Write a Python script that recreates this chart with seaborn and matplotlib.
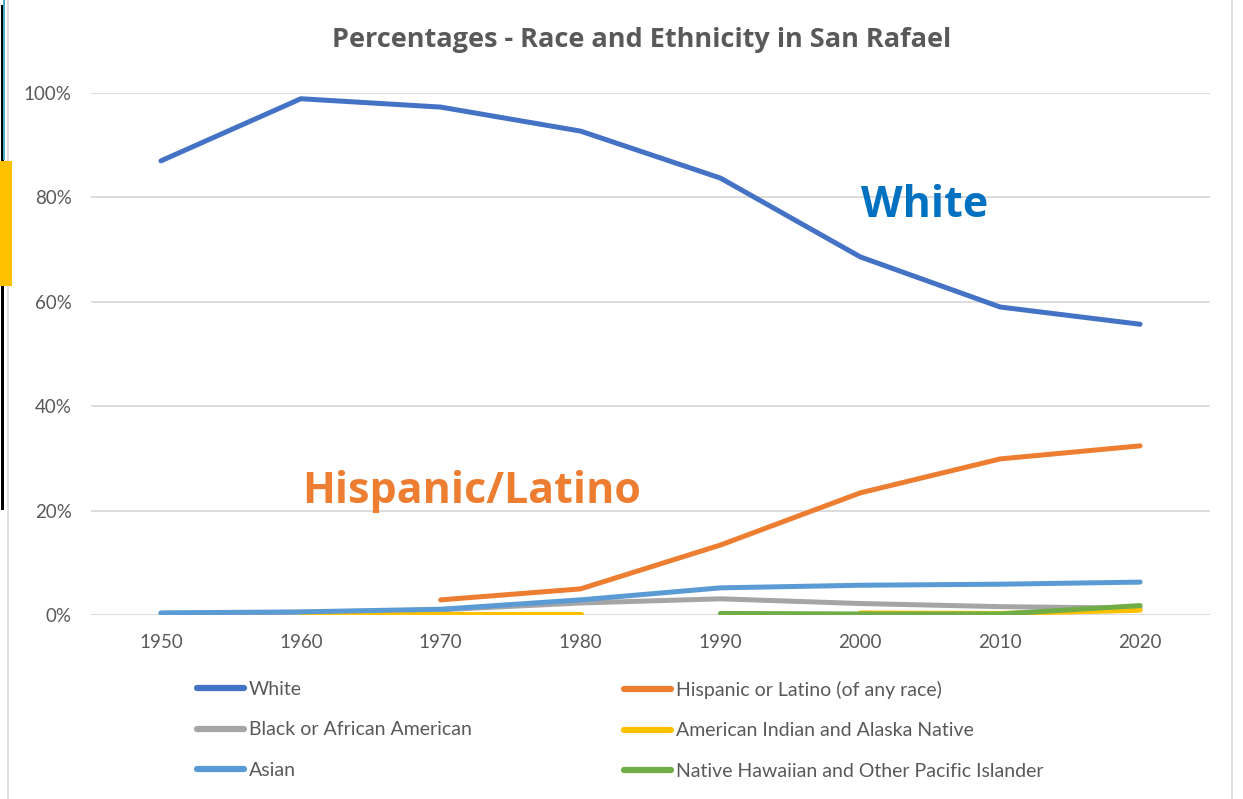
import matplotlib
matplotlib.use("Agg")
import matplotlib.pyplot as plt
from matplotlib.patches import Rectangle
from matplotlib.lines import Line2D
import seaborn as sns
import pandas as pd
import numpy as np

years = ["1950", "1960", "1970", "1980", "1990", "2000", "2010", "2020"]
white = [0.870, 0.989, 0.973, 0.927, 0.837, 0.686, 0.590, 0.557]
hispanic = [np.nan, np.nan, 0.029, 0.050, 0.134, 0.234, 0.299, 0.324]
black = [0.003, 0.005, 0.010, 0.023, 0.031, 0.022, 0.016, 0.013]
am_indian = [np.nan, 0.002, 0.002, 0.002, np.nan, 0.004, 0.003, 0.009]
asian = [0.004, 0.006, 0.011, 0.029, 0.052, 0.057, 0.059, 0.063]
pacific = [np.nan, np.nan, np.nan, np.nan, 0.003, 0.002, 0.002, 0.018]

series = {
    "White": white,
    "Hispanic or Latino (of any race)": hispanic,
    "Black or African American": black,
    "American Indian and Alaska Native": am_indian,
    "Asian": asian,
    "Native Hawaiian and Other Pacific Islander": pacific,
}
colors = {
    "White": "#4472C4",
    "Hispanic or Latino (of any race)": "#ED7D31",
    "Black or African American": "#A5A5A5",
    "American Indian and Alaska Native": "#FFC000",
    "Asian": "#5B9BD5",
    "Native Hawaiian and Other Pacific Islander": "#70AD47",
}

# long format, with a segment id so gaps (NaN) break the line
rows = []
for name, vals in series.items():
    seg = 0
    for i, v in enumerate(vals):
        if np.isnan(v):
            seg += 1
            continue
        rows.append({"pos": i, "value": v, "group": name, "seg": f"{name}-{seg}"})
df = pd.DataFrame(rows)

sns.set_style("white")
plt.rcParams["font.family"] = ["Lato", "DejaVu Sans"]

fig = plt.figure(figsize=(12.43, 7.99), dpi=100)
ax = fig.add_axes([91 / 1243, 1 - 615 / 799, 1119 / 1243, 522 / 799])

for name in ["Black or African American", "American Indian and Alaska Native",
             "Native Hawaiian and Other Pacific Islander", "Asian",
             "Hispanic or Latino (of any race)", "White"]:
    sub = df[df["group"] == name]
    sns.lineplot(data=sub, x="pos", y="value", units="seg", estimator=None,
                 color=colors[name], linewidth=3.6, ax=ax, legend=False,
                 solid_capstyle="round")

ax.set_xlim(-0.5, len(years) - 0.5)
ax.set_ylim(0, 1.0)
ax.set_xticks(range(len(years)))
ax.set_xticklabels(years)
ax.set_yticks(np.arange(0, 1.01, 0.2))
ax.set_yticklabels([f"{int(round(t * 100))}%" for t in np.arange(0, 1.01, 0.2)])
ax.set_xlabel("")
ax.set_ylabel("")
ax.yaxis.grid(True, color="#D9D9D9", linewidth=1.3)
ax.set_axisbelow(True)
for s in ax.spines.values():
    s.set_visible(False)
ax.tick_params(axis="both", length=0, colors="#595959", labelsize=13.5)
ax.tick_params(axis="y", pad=14)
ax.tick_params(axis="x", pad=14)

fig.text(642 / 1243, 1 - 40 / 799, "Percentages - Race and Ethnicity in San Rafael",
         ha="center", va="center", fontsize=19.5, fontweight="bold", color="#595959",
         family=["Open Sans", "DejaVu Sans"])

ax.text(5.46, 0.785, "White", ha="center", va="center", fontsize=31,
        fontweight="bold", color="#0070C0", family=["Open Sans", "DejaVu Sans"])
ax.text(2.22, 0.2375, "Hispanic/Latino", ha="center", va="center", fontsize=31,
        fontweight="bold", color="#ED7D31", family=["Open Sans", "DejaVu Sans"])

# legend: two columns, three rows
col1 = ["White", "Black or African American", "Asian"]
col2 = ["Hispanic or Latino (of any race)", "American Indian and Alaska Native",
        "Native Hawaiian and Other Pacific Islander"]
for names, xpos in [(col1, 197 / 1243), (col2, 624 / 1243)]:
    handles = [Line2D([0], [0], color=colors[n], linewidth=4.5, solid_capstyle="round") for n in names]
    leg = fig.legend(handles, names, loc="upper left", bbox_to_anchor=(xpos, 1 - 681 / 799),
                     frameon=False, fontsize=14, handlelength=2.4, handletextpad=0.26,
                     labelspacing=1.2, borderpad=0, borderaxespad=0)
    for t in leg.get_texts():
        t.set_color("#595959")

# chart frame and the marks along the left edge of the screenshot
fig.add_artist(Rectangle((8 / 1243, -0.01), 1224 / 1243, 1.02, transform=fig.transFigure,
                         fill=False, edgecolor="#D9D9D9", linewidth=1.2))
fig.add_artist(Rectangle((1 / 1243, 1 - 510 / 799), 3 / 1243, 505 / 799, transform=fig.transFigure,
                         facecolor="black", edgecolor="none"))
fig.add_artist(Rectangle((3 / 1243, 1 - 160 / 799), 2 / 1243, 160 / 799, transform=fig.transFigure,
                         facecolor="#4BACC6", edgecolor="none"))
fig.add_artist(Rectangle((0, 1 - 286 / 799), 12 / 1243, 125 / 799, transform=fig.transFigure,
                         facecolor="#FFC000", edgecolor="none"))

fig.savefig("out.png", dpi=100)
